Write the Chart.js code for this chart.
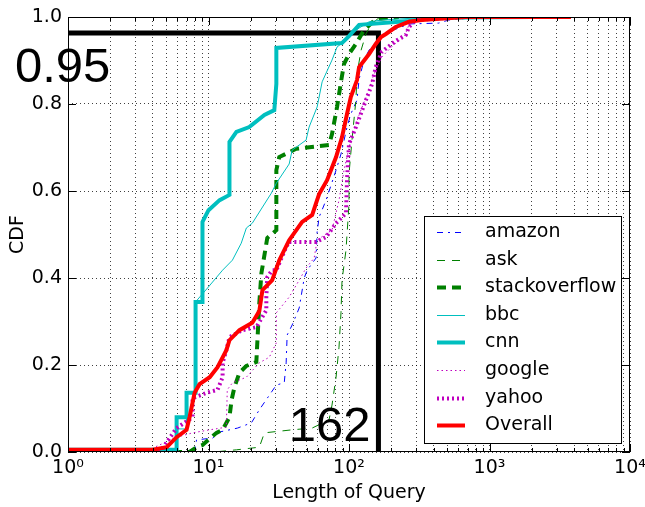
<!DOCTYPE html>
<html>
<head>
<meta charset="utf-8">
<script src="https://cdn.jsdelivr.net/npm/chart.js@4.4.0/dist/chart.umd.min.js"></script>
<style>
body { margin: 0; background: #fff; }
</style>
</head>
<body>
<canvas id="myChart" width="645" height="507"></canvas>
<script>
// CDF curves (x = query length, y = CDF)
var amazonX = [1, 7.96, 8.22, 10.7, 12, 16.1, 20.2, 23, 30.4, 34.6, 35.7, 36.3, 39.4, 44.2, 48, 50.4, 58.3, 59.3, 61.3, 68.7, 80.9, 87.7, 96.8, 103, 114, 118, 128, 139, 155, 171, 215, 267, 435, 512, 745, 2620];
var amazonY = [0, 0, 0.028, 0.032, 0.046, 0.055, 0.067, 0.097, 0.154, 0.159, 0.205, 0.269, 0.292, 0.331, 0.400, 0.418, 0.446, 0.506, 0.540, 0.579, 0.648, 0.685, 0.747, 0.777, 0.809, 0.857, 0.901, 0.924, 0.938, 0.961, 0.972, 0.984, 0.986, 0.993, 0.998, 1.0];

var askX = [1, 11, 15.8, 23, 25, 39.4, 54.7, 72.1, 75.7, 80.9, 84.9, 87.7, 89.2, 95.2, 100, 100, 105, 112, 114, 122, 132, 143, 163, 254];
var askY = [0, 0, 0.005, 0.011, 0.044, 0.051, 0.055, 0.074, 0.108, 0.172, 0.241, 0.320, 0.395, 0.464, 0.570, 0.639, 0.717, 0.809, 0.869, 0.924, 0.961, 0.982, 0.998, 1.0];

var stackX = [1, 7.33, 8.22, 9.06, 11.4, 12.6, 14.1, 14.6, 15.3, 16.6, 18.6, 21.9, 22.3, 23, 23.8, 26.2, 30.4, 30.4, 31.9, 42.1, 72.1, 75.7, 82.2, 87.7, 92.2, 100, 112, 128, 155, 226];
var stackY = [0, 0, 0.011, 0.016, 0.044, 0.051, 0.080, 0.120, 0.149, 0.182, 0.198, 0.207, 0.257, 0.343, 0.411, 0.492, 0.510, 0.648, 0.678, 0.697, 0.706, 0.731, 0.793, 0.851, 0.892, 0.915, 0.938, 0.970, 0.995, 1.0];

var bbcX = [1, 5.93, 5.93, 6.98, 6.98, 8.09, 8.09, 9.84, 12.6, 14.8, 17.1, 18.6, 20.5, 28, 30.4, 37.5, 39.4, 49.5, 52, 59.3, 64.4, 75.7, 82.2, 95.2, 112, 139, 171, 313, 1500];
var bbcY = [0, 0, 0.053, 0.053, 0.136, 0.136, 0.345, 0.377, 0.418, 0.441, 0.480, 0.515, 0.526, 0.595, 0.618, 0.662, 0.694, 0.717, 0.747, 0.793, 0.851, 0.901, 0.931, 0.947, 0.970, 0.989, 0.993, 0.998, 1.0];

var cnnX = [1, 5.93, 5.93, 6.98, 6.98, 8.09, 8.09, 9.06, 9.06, 10, 12, 14.1, 14.1, 15.8, 19.5, 25, 29.4, 30.4, 30.4, 89, 100, 118, 267, 369, 2000];
var cnnY = [0.005, 0.005, 0.080, 0.080, 0.136, 0.136, 0.345, 0.345, 0.529, 0.556, 0.579, 0.591, 0.713, 0.736, 0.747, 0.775, 0.786, 0.846, 0.929, 0.940, 0.956, 0.982, 0.991, 0.998, 1.0];

var googleX = [1, 3.81, 4.14, 5.93, 7.7, 10.2, 13.4, 13.6, 14.8, 18.6, 23, 27.1, 30.4, 30.4, 37.5, 44.2, 49.5, 56.5, 59.3, 69.8, 75.7, 84.9, 92.2, 103, 118, 134, 150, 171, 208, 246, 267, 313, 472, 1160];
var googleY = [0, 0, 0.011, 0.034, 0.044, 0.051, 0.057, 0.143, 0.159, 0.172, 0.205, 0.218, 0.251, 0.320, 0.356, 0.395, 0.423, 0.446, 0.487, 0.503, 0.510, 0.579, 0.648, 0.717, 0.775, 0.821, 0.867, 0.908, 0.936, 0.952, 0.982, 0.993, 0.998, 1.0];

var yahooX = [1, 4.14, 4.72, 5.93, 7.7, 7.7, 9.68, 11.6, 12.6, 12.6, 13.4, 14.1, 17.4, 21.9, 25.8, 25.8, 26.2, 28.4, 30.4, 35.7, 37.5, 58.3, 68.7, 80.9, 95.2, 96.8, 100, 112, 132, 146, 155, 171, 215, 254, 267, 299, 603];
var yahooY = [0, 0, 0.009, 0.055, 0.080, 0.124, 0.136, 0.143, 0.172, 0.205, 0.234, 0.264, 0.280, 0.287, 0.326, 0.356, 0.402, 0.418, 0.418, 0.471, 0.483, 0.483, 0.494, 0.526, 0.549, 0.625, 0.708, 0.747, 0.809, 0.846, 0.885, 0.920, 0.945, 0.959, 0.977, 0.993, 1.0];

var overallX = [1, 4.0, 5.04, 5.93, 6.98, 7.33, 7.96, 8.63, 10.2, 11.6, 13.4, 14.1, 16.6, 20.5, 23, 24.2, 28.4, 31.9, 37.5, 46.4, 54.7, 58.3, 61.3, 69.8, 80.9, 89.2, 96.8, 103, 114, 118, 139, 155, 169, 183, 215, 267, 330, 676, 3800];
var overallY = [0.005, 0.005, 0.011, 0.034, 0.051, 0.080, 0.136, 0.156, 0.172, 0.195, 0.234, 0.257, 0.280, 0.297, 0.324, 0.372, 0.395, 0.441, 0.487, 0.529, 0.545, 0.572, 0.593, 0.625, 0.678, 0.724, 0.777, 0.816, 0.855, 0.885, 0.915, 0.938, 0.954, 0.961, 0.977, 0.989, 0.993, 1.0, 1.0];

// the black 95th percentile marker
var markX = [1, 162, 162];
var markY = [0.963, 0.963, 0];
var markLabels = ["0.95", "162"];

var xTickLabels = ["10\u2070", "10\u00b9", "10\u00b2", "10\u00b3", "10\u2074"];
var yTickLabels = ["0.0", "0.2", "0.4", "0.6", "0.8", "1.0"];

function pts(xs, ys) {
    var out = [];
    for (var i = 0; i < xs.length; i++) out.push({ x: xs[i], y: ys[i] });
    return out;
}

Chart.defaults.font.family = "DejaVu Sans";
Chart.defaults.font.size = 19;
Chart.defaults.color = "#000";

var boxPlugin = {
    id: "boxPlugin",
    afterDatasetsDraw: function (chart) {
        var ctx = chart.ctx;
        var a = chart.chartArea;
        var xs = chart.scales.x;
        var ys = chart.scales.y;

        ctx.save();
        // big annotation labels
        ctx.fillStyle = "#000";
        ctx.font = '49px "Liberation Sans"';
        ctx.textBaseline = "alphabetic";
        ctx.textAlign = "left";
        ctx.fillText(markLabels[0], a.left - 53, ys.getPixelForValue(markY[0]) + 49);
        ctx.textAlign = "right";
        ctx.fillText(markLabels[1], xs.getPixelForValue(markX[1]) - 8, a.bottom - 11);

        // frame
        ctx.strokeStyle = "#000";
        ctx.lineWidth = 1;
        ctx.strokeRect(Math.round(a.left) + 0.5, Math.round(a.top) + 0.5, Math.round(a.width) - 1, Math.round(a.height) - 1);

        // inward ticks on all sides
        ctx.beginPath();
        xs.ticks.forEach(function (t) {
            var px = Math.round(xs.getPixelForValue(t.value)) + 0.5;
            var len = t.major ? 8 : 4;
            ctx.moveTo(px, a.bottom); ctx.lineTo(px, a.bottom - len);
            ctx.moveTo(px, a.top); ctx.lineTo(px, a.top + len);
        });
        ys.ticks.forEach(function (t) {
            var py = Math.round(ys.getPixelForValue(t.value)) + 0.5;
            ctx.moveTo(a.left, py); ctx.lineTo(a.left + 8, py);
            ctx.moveTo(a.right, py); ctx.lineTo(a.right - 8, py);
        });
        ctx.stroke();

        // legend box in the lower right corner
        var w = 197, h = 227;
        var bx = Math.round(a.right - 9 - w), by = Math.round(a.bottom - 9 - h);
        ctx.fillStyle = "#fff";
        ctx.fillRect(bx, by, w, h);
        ctx.strokeStyle = "#000";
        ctx.lineWidth = 1;
        ctx.strokeRect(bx + 0.5, by + 0.5, w, h);
        ctx.font = '19px "DejaVu Sans"';
        ctx.textAlign = "left";
        ctx.textBaseline = "middle";
        var row = 0;
        chart.data.datasets.forEach(function (ds) {
            if (!ds.label) return;
            var cy = Math.round(by + 16 + row * 27.6) + 0.5;
            ctx.save();
            ctx.strokeStyle = ds.borderColor;
            ctx.lineWidth = ds.borderWidth;
            ctx.setLineDash(ds.borderDash || []);
            ctx.beginPath();
            ctx.moveTo(bx + 13, cy);
            ctx.lineTo(bx + 41, cy);
            ctx.stroke();
            ctx.restore();
            ctx.fillStyle = "#000";
            ctx.fillText(ds.label, bx + 61, cy);
            row++;
        });
        ctx.restore();
    }
};

function series(label, xs, ys, color, width, dash, order) {
    return {
        label: label,
        data: pts(xs, ys),
        borderColor: color,
        borderWidth: width,
        borderDash: dash,
        borderCapStyle: "butt",
        borderJoinStyle: "miter",
        fill: false,
        order: order
    };
}

new Chart("myChart", {
    type: "line",
    data: {
        datasets: [
            series("amazon", amazonX, amazonY, "#0000FF", 1, [6, 5, 2, 5], 8),
            series("ask", askX, askY, "#008000", 1, [8, 7], 7),
            series("stackoverflow", stackX, stackY, "#008000", 4, [9, 6], 6),
            series("bbc", bbcX, bbcY, "#00BFBF", 1, [], 5),
            series("cnn", cnnX, cnnY, "#00BFBF", 4, [], 4),
            series("google", googleX, googleY, "#BF00BF", 1, [1.5, 3], 3),
            series("yahoo", yahooX, yahooY, "#BF00BF", 4, [2, 3], 2),
            series("Overall", overallX, overallY, "#FF0000", 4, [], 1),
            {
                label: "",
                data: pts(markX, markY),
                borderColor: "#000",
                borderWidth: 5,
                borderCapStyle: "butt",
                fill: false,
                order: 9
            }
        ]
    },
    options: {
        responsive: false,
        animation: false,
        elements: {
            point: { radius: 0 },
            line: { tension: 0 }
        },
        layout: {
            padding: { top: 17, right: 15, left: 0, bottom: 0 }
        },
        plugins: {
            legend: { display: false },
            tooltip: { enabled: false }
        },
        scales: {
            x: {
                type: "logarithmic",
                min: 1,
                max: 10000,
                afterBuildTicks: function (scale) {
                    var t = [];
                    for (var e = 0; e < 4; e++) {
                        for (var m = 1; m < 10; m++) t.push({ value: m * Math.pow(10, e), major: m === 1 });
                    }
                    t.push({ value: 10000, major: true });
                    scale.ticks = t;
                },
                afterFit: function (scale) {
                    scale.height = 55;
                    scale.paddingLeft = 0;
                    scale.paddingRight = 0;
                },
                ticks: {
                    autoSkip: false,
                    maxRotation: 0,
                    minRotation: 0,
                    padding: 5,
                    callback: function (v) {
                        var p = Math.log10(v);
                        var r = Math.round(p);
                        return Math.abs(p - r) < 1e-9 ? xTickLabels[r] : "";
                    }
                },
                grid: { color: "rgba(0,0,0,0.75)", lineWidth: 1, drawTicks: false },
                border: { display: false, dash: [1, 3] },
                title: { display: true, text: "Length of Query", padding: { top: 0, bottom: 3 } }
            },
            y: {
                min: 0,
                max: 1,
                afterFit: function (scale) {
                    scale.width = 68;
                    scale.paddingTop = 0;
                    scale.paddingBottom = 0;
                },
                ticks: {
                    stepSize: 0.2,
                    padding: 6,
                    callback: function (v, i) { return yTickLabels[i]; }
                },
                grid: { color: "rgba(0,0,0,0.75)", lineWidth: 1, drawTicks: false },
                border: { display: false, dash: [1, 3] },
                title: { display: true, text: "CDF", padding: { top: 7, bottom: 0 } }
            }
        }
    },
    plugins: [boxPlugin]
});
</script>
</body>
</html>
